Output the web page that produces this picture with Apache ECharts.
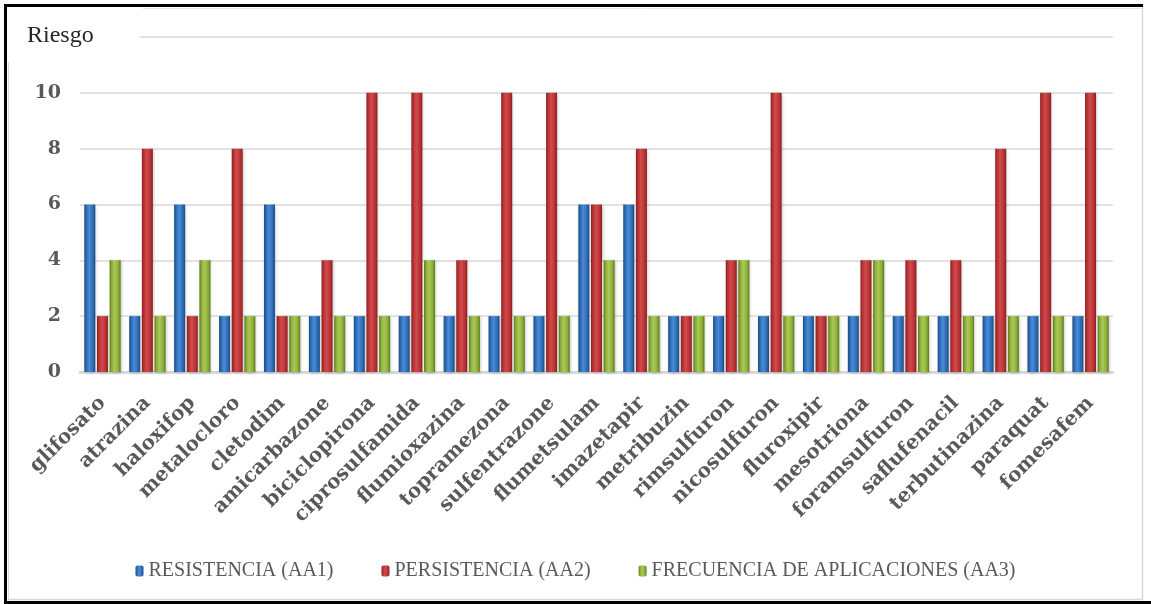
<!DOCTYPE html>
<html>
<head>
<meta charset="utf-8">
<style>
  html, body { margin: 0; padding: 0; background: #fff; }
  #chart { width: 1151px; height: 604px; }
</style>
<script src="https://cdn.jsdelivr.net/npm/echarts@6/dist/echarts.min.js"></script>
</head>
<body>
<div id="chart"></div>
<script>
// Herbicidas evaluados
const herbicidas = [
  'glifosato', 'atrazina', 'haloxifop', 'metalocloro', 'cletodim', 'amicarbazone',
  'biciclopirona', 'ciprosulfamida', 'flumioxazina', 'topramezona', 'sulfentrazone',
  'flumetsulam', 'imazetapir', 'metribuzin', 'rimsulfuron', 'nicosulfuron',
  'fluroxipir', 'mesotriona', 'foramsulfuron', 'saflufenacil', 'terbutinazina',
  'paraquat', 'fomesafem'
];

// Riesgo por atributo
const resistencia = [6, 2, 6, 2, 6, 2, 2, 2, 2, 2, 2, 6, 6, 2, 2, 2, 2, 2, 2, 2, 2, 2, 2];
const persistencia = [2, 8, 2, 8, 2, 4, 10, 10, 4, 10, 10, 6, 8, 2, 4, 10, 2, 4, 4, 4, 8, 10, 10];
const frecuencia = [4, 2, 4, 2, 2, 2, 2, 4, 2, 2, 2, 4, 2, 2, 4, 2, 2, 4, 2, 2, 2, 2, 2];

const seriesNames = ['RESISTENCIA (AA1)', 'PERSISTENCIA (AA2)', 'FRECUENCIA DE APLICACIONES (AA3)'];

// Escala del eje de riesgo
const yMin = 0;
const yMax = 12;
const yStep = 2;

const boldSerif = '"DejaVu Serif", "Liberation Serif", serif';
const plainSerif = 'Liberation Serif';

// Relleno cilíndrico: bordes oscuros, centro claro
function cylinder(dark, mid, light) {
  return new echarts.graphic.LinearGradient(0, 0, 1, 0, [
    { offset: 0, color: dark },
    { offset: 0.18, color: mid },
    { offset: 0.45, color: light },
    { offset: 0.8, color: mid },
    { offset: 1, color: dark }
  ]);
}

const fills = [
  cylinder('#1b4a80', '#2c6ab2', '#4a8bd8'),
  cylinder('#86201f', '#b73133', '#d24b4b'),
  cylinder('#5a761a', '#8aad36', '#a9c95a')
];

const textGrey = '#595959';

function barSeries(name, values, fill) {
  return {
    name: name,
    type: 'bar',
    data: values,
    barWidth: 11,
    barGap: '15%',
    itemStyle: {
      color: fill,
      shadowColor: 'rgba(0,0,0,0.25)',
      shadowBlur: 3,
      shadowOffsetX: 1,
      shadowOffsetY: 1
    }
  };
}

const chart = echarts.init(document.getElementById('chart'));

chart.setOption({
  animation: false,
  backgroundColor: '#ffffff',
  title: {
    text: 'Riesgo',
    left: 22,
    top: 22,
    padding: [2, 46, 2, 5],
    backgroundColor: '#ffffff',
    textStyle: {
      fontFamily: plainSerif,
      fontWeight: 400,
      fontSize: 24,
      color: '#262626'
    }
  },
  legend: {
    data: seriesNames,
    left: 'center',
    top: 556,
    itemWidth: 8,
    itemHeight: 11,
    itemGap: 48,
    textStyle: {
      fontFamily: plainSerif,
      fontWeight: 400,
      fontSize: 20,
      color: textGrey
    }
  },
  grid: {
    left: 80,
    right: 38,
    top: 37,
    bottom: 232,
    containLabel: false
  },
  xAxis: {
    type: 'category',
    data: herbicidas,
    axisTick: { show: false },
    axisLine: { lineStyle: { color: '#d4d4d4', width: 2.5 } },
    axisLabel: {
      interval: 0,
      rotate: 45,
      margin: 28,
      fontFamily: boldSerif,
      fontWeight: 'bold',
      fontSize: 20,
      color: textGrey
    }
  },
  yAxis: {
    type: 'value',
    min: yMin,
    max: yMax,
    interval: yStep,
    axisLine: { show: false },
    axisTick: { show: false },
    splitLine: { lineStyle: { color: '#d9d9d9', width: 1.5 } },
    axisLabel: {
      margin: 19,
      fontFamily: boldSerif,
      fontWeight: 'bold',
      fontSize: 19,
      color: textGrey,
      formatter: function (v) { return v === yMax ? '' : String(v); }
    }
  },
  series: [
    barSeries(seriesNames[0], resistencia, fills[0]),
    barSeries(seriesNames[1], persistencia, fills[1]),
    barSeries(seriesNames[2], frecuencia, fills[2])
  ],
  graphic: [
    // marco exterior
    { type: 'rect', shape: { x: 4, y: 4, width: 1139, height: 3 }, style: { fill: '#000' }, z: 100 },
    { type: 'rect', shape: { x: 4, y: 4, width: 3, height: 600 }, style: { fill: '#000' }, z: 100 },
    { type: 'rect', shape: { x: 4, y: 601, width: 1147, height: 3 }, style: { fill: '#000' }, z: 100 },
    // borde interior del área del gráfico
    { type: 'line', shape: { x1: 8.5, y1: 62, x2: 8.5, y2: 600 }, style: { stroke: '#d9d9d9', lineWidth: 1 }, z: 100 },
    { type: 'line', shape: { x1: 8, y1: 599.5, x2: 1143, y2: 599.5 }, style: { stroke: '#d9d9d9', lineWidth: 1.5 }, z: 100 },
    { type: 'line', shape: { x1: 1142.5, y1: 7, x2: 1142.5, y2: 600 }, style: { stroke: '#d9d9d9', lineWidth: 1.5 }, z: 100 },
    { type: 'line', shape: { x1: 143, y1: 8.5, x2: 1142, y2: 8.5 }, style: { stroke: '#e6e6e6', lineWidth: 1 }, z: 100 }
  ]
});
</script>
</body>
</html>
